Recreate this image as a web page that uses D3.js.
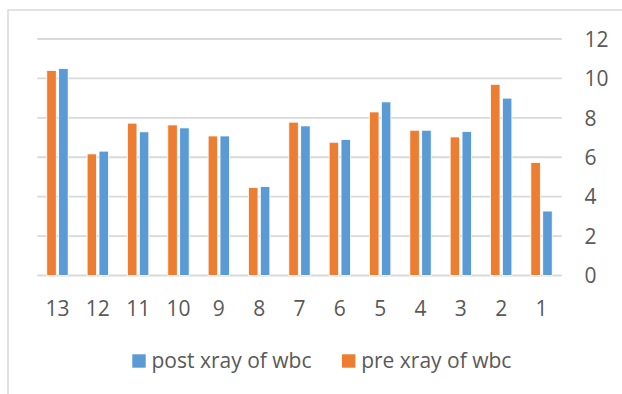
<!DOCTYPE html>
<html>
<head>
<meta charset="utf-8">
<script src="https://cdn.jsdelivr.net/npm/d3@7"></script>
<style>
  body { margin: 0; background: #fff; }
  svg { display: block; }
  text { font-family: "Open Sans", "Noto Sans", sans-serif; fill: #595959; }
</style>
</head>
<body>
<div id="chart"></div>
<script>
// Chart data
const categories = ["13", "12", "11", "10", "9", "8", "7", "6", "5", "4", "3", "2", "1"];
const preXray = [10.4, 6.17, 7.73, 7.64, 7.08, 4.46, 7.78, 6.76, 8.3, 7.37, 7.03, 9.7, 5.73];
const postXray = [10.5, 6.31, 7.29, 7.49, 7.08, 4.51, 7.59, 6.9, 8.81, 7.37, 7.3, 9.0, 3.27];
const seriesNames = ["pre xray of wbc", "post xray of wbc"];
const legendOrder = ["post xray of wbc", "pre xray of wbc"];
const yTicks = [0, 2, 4, 6, 8, 10, 12];

const colors = { "pre xray of wbc": "#ED7D31", "post xray of wbc": "#5B9BD5" };

const width = 622, height = 394;
const plot = { left: 37.3, right: 561.7, top: 39, bottom: 275.5 };
const fontSize = "21px";

const svg = d3.select("#chart")
    .append("svg")
    .attr("width", width)
    .attr("height", height);

// Outer chart border (right and bottom edges fall outside the picture)
svg.append("rect")
    .attr("x", 8)
    .attr("y", 10)
    .attr("width", 700)
    .attr("height", 500)
    .attr("fill", "none")
    .attr("stroke", "#d9d9d9")
    .attr("stroke-width", 1.5);

// Scales
const x0 = d3.scaleBand()
    .domain(categories)
    .range([plot.left, plot.right])
    .paddingInner(0.47)
    .paddingOuter(0.235);

const x1 = d3.scaleBand()
    .domain(seriesNames)
    .range([0, x0.bandwidth()])
    .paddingInner(0.2);

const y = d3.scaleLinear()
    .domain([0, 12])
    .range([plot.bottom, plot.top]);

// Gridlines
svg.append("g")
    .selectAll("line")
    .data(yTicks)
    .enter()
    .append("line")
    .attr("x1", plot.left)
    .attr("x2", plot.right)
    .attr("y1", d => y(d))
    .attr("y2", d => y(d))
    .attr("stroke", "#d9d9d9")
    .attr("stroke-width", 1.8);

// Right side value axis labels
svg.append("g")
    .selectAll("text")
    .data(yTicks)
    .enter()
    .append("text")
    .attr("x", 584.5)
    .attr("y", d => y(d))
    .attr("dy", "0.37em")
    .attr("font-size", fontSize)
    .text(d => d);

// Bars
const rows = categories.map((c, i) => ({
    cat: c,
    values: [
        { key: "pre xray of wbc", value: preXray[i] },
        { key: "post xray of wbc", value: postXray[i] }
    ]
}));

svg.append("g")
    .selectAll("g")
    .data(rows)
    .enter()
    .append("g")
    .attr("transform", d => `translate(${x0(d.cat)},0)`)
    .selectAll("rect")
    .data(d => d.values)
    .enter()
    .append("rect")
    .attr("x", d => x1(d.key))
    .attr("y", d => y(d.value))
    .attr("width", x1.bandwidth())
    .attr("height", d => y(0) - y(d.value))
    .attr("fill", d => colors[d.key])
    .attr("stroke", "#fff")
    .attr("stroke-width", 0.8);

// Category labels
svg.append("g")
    .selectAll("text")
    .data(categories)
    .enter()
    .append("text")
    .attr("x", d => x0(d) + x0.bandwidth() / 2)
    .attr("y", 315.5)
    .attr("text-anchor", "middle")
    .attr("font-size", fontSize)
    .text(d => d);

// Legend
const legendX = [132.3, 342];
const legend = svg.append("g")
    .selectAll("g")
    .data(legendOrder)
    .enter()
    .append("g")
    .attr("transform", (d, i) => `translate(${legendX[i]},354.3)`);

legend.append("rect")
    .attr("width", 13.4)
    .attr("height", 13.4)
    .attr("fill", d => colors[d]);

legend.append("text")
    .attr("x", 19.2)
    .attr("y", 13.5)
    .attr("font-size", fontSize)
    .text(d => d);
</script>
</body>
</html>
